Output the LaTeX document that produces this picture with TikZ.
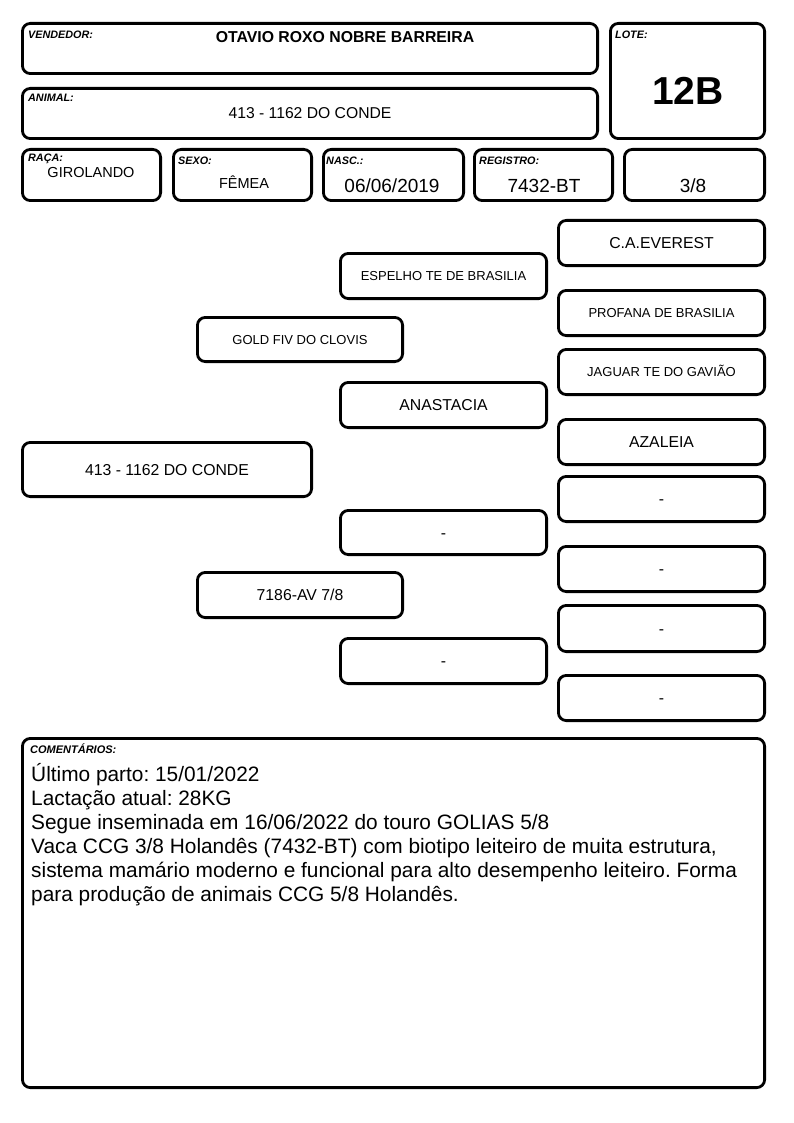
\documentclass[tikz,border=0pt]{standalone}
\usepackage{fontspec}
\setmainfont{Liberation Sans}
\frenchspacing
\newcommand\cardbox[5]{%
  \pgfmathsetmacro\cbw{#4-#2-2.8}\pgfmathsetmacro\cbh{#5-#3-2.8}%
  \node[box, minimum width=\cbw pt, minimum height=\cbh pt] (#1) at ({(#2+#4)/2},{(#3+#5)/2}) {};}
\begin{document}
\begin{tikzpicture}[x=1pt,y=-1pt,
  box/.style={draw=black, line width=2.8pt, rounded corners=8pt, inner sep=0pt, outer sep=0pt},
  lab/.style={font=\fontsize{10.8}{12}\selectfont\bfseries\itshape, anchor=base west, inner sep=0pt},
  namebold/.style={font=\fontsize{15.8}{18}\selectfont\bfseries, anchor=base, inner sep=0pt},
  lotetxt/.style={font=\fontsize{39}{44}\selectfont\bfseries, anchor=base, inner sep=0pt},
  midtxt/.style={font=\fontsize{15.7}{18}\selectfont, anchor=base, inner sep=0pt},
  smalltxt/.style={font=\fontsize{14.5}{17}\selectfont, anchor=base, inner sep=0pt},
  valtxt/.style={font=\fontsize{19}{22}\selectfont, anchor=base, inner sep=0pt},
  pedbig/.style={font=\fontsize{15.8}{18}\selectfont, anchor=base, inner sep=0pt, yshift=-5.7pt},
  pedsmall/.style={font=\fontsize{13}{15}\selectfont, anchor=base, inner sep=0pt, yshift=-4.7pt},
  comtxt/.style={font=\fontsize{20.85}{24}\selectfont, anchor=base west, inner sep=0pt}]
\useasboundingbox (0,0) rectangle (794,1123);
\fill[white] (0,0) rectangle (794,1123);
% header boxes
\cardbox{vend}{21}{22}{599}{75}
\cardbox{lote}{609}{22}{766}{140}
\cardbox{anim}{21}{87}{599}{140}
\cardbox{raca}{21}{148}{162}{202}
\cardbox{sexo}{172}{148}{313}{202}
\cardbox{nasc}{322}{148}{465}{202}
\cardbox{reg}{473}{148}{614}{202}
\cardbox{frac}{623}{148}{766}{202}
% header texts
\node[lab] (vendl) at (28,39) {VENDEDOR:};
\node[namebold] (vendt) at (345,43) {OTAVIO ROXO NOBRE BARREIRA};
\node[lab] (lotel) at (615,39) {LOTE:};
\node[lotetxt] (lotet) at (688,105) {12B};
\node[lab] (animl) at (28,102) {ANIMAL:};
\node[midtxt] (animt) at (310,119) {413 - 1162 DO CONDE};
\node[lab] (racal) at (28,162) {RAÇA:};
\node[smalltxt] (racat) at (91,178) {GIROLANDO};
\node[lab] (sexol) at (178,165) {SEXO:};
\node[smalltxt] (sexot) at (244,189) {FÊMEA};
\node[lab] (nascl) at (326,165) {NASC.:};
\node[valtxt] (nasct) at (392,193) {06/06/2019};
\node[lab] (regl) at (479,165) {REGISTRO:};
\node[valtxt] (regt) at (544,193) {7432-BT};
\node[valtxt] (fract) at (693,193) {3/8};
% pedigree boxes
\cardbox{p0}{21}{441}{313}{498}
\cardbox{p1}{196}{316}{404}{363}
\cardbox{p2}{196}{571}{404}{619}
\cardbox{p11}{339}{252}{548}{300}
\cardbox{p12}{339}{381}{548}{429}
\cardbox{p21}{339}{509}{548}{556}
\cardbox{p22}{339}{637}{548}{685}
\cardbox{p111}{557}{219}{766}{267}
\cardbox{p112}{557}{289}{766}{337}
\cardbox{p121}{557}{348}{766}{396}
\cardbox{p122}{557}{418}{766}{466}
\cardbox{p211}{557}{475}{766}{523}
\cardbox{p212}{557}{545}{766}{593}
\cardbox{p221}{557}{604}{766}{653}
\cardbox{p222}{557}{674}{766}{722}
% pedigree texts
\node[pedbig] (t0) at (p0.center) {413 - 1162 DO CONDE};
\node[pedsmall] (t1) at (p1.center) {GOLD FIV DO CLOVIS};
\node[pedbig] (t2) at (p2.center) {7186-AV 7/8};
\node[pedsmall] (t11) at (p11.center) {ESPELHO TE DE BRASILIA};
\node[pedbig] (t12) at (p12.center) {ANASTACIA};
\node[pedbig] (t21) at (p21.center) {-};
\node[pedbig] (t22) at (p22.center) {-};
\node[pedbig] (t111) at (p111.center) {C.A.EVEREST};
\node[pedsmall] (t112) at (p112.center) {PROFANA DE BRASILIA};
\node[pedsmall] (t121) at (p121.center) {JAGUAR TE DO GAVIÃO};
\node[pedbig] (t122) at (p122.center) {AZALEIA};
\node[pedbig] (t211) at (p211.center) {-};
\node[pedbig] (t212) at (p212.center) {-};
\node[pedbig] (t221) at (p221.center) {-};
\node[pedbig] (t222) at (p222.center) {-};
% comments
\cardbox{com}{21}{737}{766}{1089}
\node[lab, font=\fontsize{11}{13}\selectfont\bfseries\itshape] (coml) at (30,753) {COMENTÁRIOS:};
\node[comtxt] (c1) at (31,781) {Último parto: 15/01/2022};
\node[comtxt] (c2) at (31,805) {Lactação atual: 28KG};
\node[comtxt] (c3) at (31,829) {Segue inseminada em 16/06/2022 do touro GOLIAS 5/8};
\node[comtxt] (c4) at (31,853) {Vaca CCG 3/8 Holandês (7432-BT) com biotipo leiteiro de muita estrutura,};
\node[comtxt] (c5) at (31,877) {sistema mamário moderno e funcional para alto desempenho leiteiro. Forma};
\node[comtxt] (c6) at (31,901) {para produção de animais CCG 5/8 Holandês.};
\end{tikzpicture}
\end{document}
